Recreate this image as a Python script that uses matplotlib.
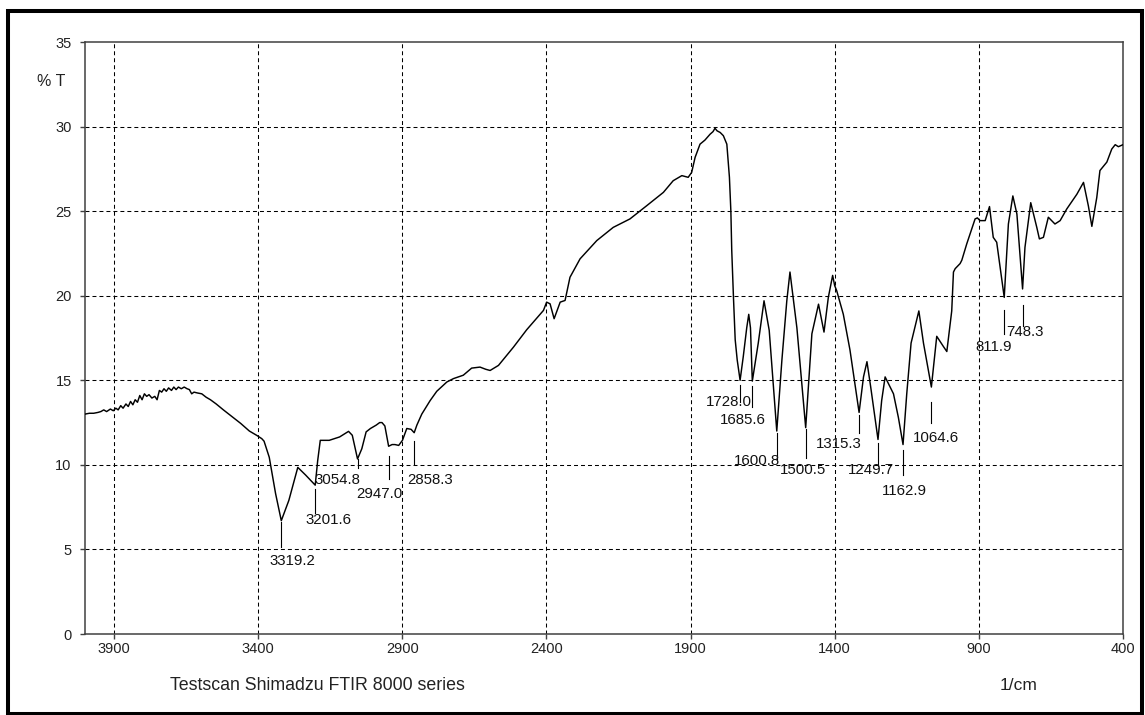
import matplotlib
matplotlib.use("Agg")
import matplotlib.pyplot as plt
import numpy as np
from matplotlib.patches import Rectangle
from matplotlib.transforms import IdentityTransform

# FTIR spectrum, wavenumber (1/cm) vs transmittance (%T)
wavenumber = [
    4000, 3985, 3970, 3955, 3945, 3935, 3925, 3912, 3902, 3893, 3885, 3876,
    3868, 3858, 3850, 3842, 3834, 3826, 3818, 3810, 3802, 3794, 3786, 3778,
    3768, 3758, 3750, 3742, 3734, 3726, 3718, 3710, 3700, 3692, 3684, 3676,
    3666, 3656, 3646, 3638, 3630, 3622, 3610, 3595, 3580, 3565, 3545, 3520,
    3490, 3460, 3430, 3405, 3392, 3387, 3379, 3361, 3339, 3319.2, 3293, 3262,
    3235, 3201.6, 3193, 3184, 3153, 3117, 3086, 3073, 3064, 3054.8, 3040, 3025,
    3010, 2990, 2978, 2970, 2960, 2947.0, 2935, 2925, 2912, 2899, 2884, 2869,
    2858.3, 2849, 2832, 2803, 2780, 2745, 2722, 2688, 2659, 2630, 2610, 2595,
    2566, 2514, 2468, 2410, 2399, 2387, 2373, 2352, 2335, 2318, 2283, 2225,
    2168, 2110, 2052, 1994, 1960, 1930, 1908, 1896, 1884, 1867, 1850, 1832,
    1822, 1815, 1808, 1797, 1786, 1774, 1765, 1760, 1757, 1751, 1745, 1738,
    1728.0, 1717, 1705, 1698, 1692, 1685.6, 1665, 1645, 1627, 1600.8, 1583, 1566,
    1555, 1531, 1500.5, 1479, 1456, 1437, 1422, 1407, 1400, 1393, 1370, 1347,
    1315.3, 1300, 1288, 1275, 1249.7, 1237, 1225, 1196, 1179, 1162.9, 1150, 1135,
    1108, 1092, 1064.6, 1046, 1023, 1011, 994, 988, 982, 965, 959, 942,
    913, 905, 896, 878, 863, 850, 838, 811.9, 797.5, 782, 768, 748.3,
    740, 720, 699, 690, 676, 659, 636, 618, 595, 560, 537, 520,
    508, 491, 480, 456, 439, 427, 416, 400,
]
transmittance = [
    13.0, 13.05, 13.05, 13.1, 13.15, 13.25, 13.15, 13.3, 13.2, 13.35, 13.25, 13.5,
    13.35, 13.6, 13.45, 13.75, 13.55, 13.85, 13.7, 14.1, 13.85, 14.2, 14.05, 14.15,
    13.95, 14.05, 13.85, 14.4, 14.3, 14.5, 14.35, 14.55, 14.4, 14.6, 14.45, 14.6,
    14.5, 14.6, 14.5, 14.45, 14.2, 14.3, 14.25, 14.2, 14.0, 13.85, 13.6, 13.25,
    12.85, 12.45, 12.0, 11.75, 11.6, 11.55, 11.4, 10.45, 8.3, 6.7, 7.9, 9.85,
    9.4, 8.8, 10.25, 11.45, 11.45, 11.65, 11.98, 11.75, 11.05, 10.35, 10.95, 11.95,
    12.15, 12.35, 12.5, 12.5, 12.3, 11.1, 11.2, 11.2, 11.15, 11.45, 12.15, 12.1,
    11.9, 12.35, 13.0, 13.8, 14.35, 14.9, 15.1, 15.3, 15.72, 15.78, 15.65, 15.58,
    15.88, 16.96, 17.99, 19.13, 19.62, 19.52, 18.64, 19.62, 19.72, 21.09, 22.18, 23.26,
    24.04, 24.54, 25.32, 26.11, 26.8, 27.1, 27.0, 27.29, 28.18, 28.96, 29.2, 29.55,
    29.7, 29.9, 29.75, 29.65, 29.46, 28.96, 27.0, 25.0, 22.7, 19.9, 17.4, 16.2,
    15.0, 16.4, 18.1, 18.9, 18.1, 14.95, 17.2, 19.7, 17.95, 12.0, 16.2, 19.7,
    21.4, 18.1, 12.2, 17.75, 19.5, 17.85, 19.9, 21.2, 20.6, 20.3, 18.9, 16.8,
    13.1, 15.2, 16.1, 14.6, 11.5, 13.8, 15.2, 14.2, 12.8, 11.2, 14.2, 17.2,
    19.1, 17.2, 14.6, 17.6, 17.0, 16.7, 19.1, 21.4, 21.6, 21.9, 22.1, 23.06,
    24.54, 24.6, 24.44, 24.44, 25.27, 23.45, 23.16, 19.9, 24.24, 25.9, 24.83, 20.4,
    22.86, 25.5, 24.04, 23.36, 23.45, 24.64, 24.24, 24.44, 25.13, 26.0, 26.7, 25.3,
    24.1, 25.8, 27.4, 27.9, 28.67, 28.93, 28.81, 28.93,
]

# picked band positions
peaks = [3319.2, 3201.6, 3054.8, 2947.0, 2858.3, 1728.0, 1685.6, 1600.8,
         1500.5, 1315.3, 1249.7, 1162.9, 1064.6, 811.9, 748.3]
# per band, in pixels: gap under the minimum, tick length,
# text shift from the tick, text baseline below the tick end
peak_layout = [
    (1, 25, -12, 18), (4, 24, -10, 11), (0, 9, -43, 16), (10, 23, -32, 19),
    (8, 23, -7, 20), (5, 17, -34, 4), (5, 21, -32, 17), (2, 26, -43, 6),
    (1, 29, -26, 16), (3, 18, -43, 15), (4, 23, -30, 8), (5, 25, -21, 20),
    (15, 21, -18, 19), (13, 24, -29, 17), (16, 21, -16, 10),
]

xticks = [3900, 3400, 2900, 2400, 1900, 1400, 900, 400]
yticks = [0, 5, 10, 15, 20, 25, 30, 35]

plt.rcParams['font.family'] = ['Liberation Sans', 'DejaVu Sans']

W, H = 1145, 715
fig = plt.figure(figsize=(W / 100, H / 100), dpi=100)
ax = fig.add_axes([85 / W, 81 / H, 1038 / W, 592 / H])
ax.set_xlim(4000, 400)
ax.set_ylim(0, 35)

dash = (0, (3.8, 2.9))
for x in xticks[:-1]:
    ax.axvline(x, color='black', lw=0.75, ls=dash, zorder=1)
for y in yticks[1:-1]:
    ax.axhline(y, color='black', lw=0.75, ls=dash, zorder=1)

ax.plot(wavenumber, transmittance, color='black', lw=1.05, zorder=3)

# peak ticks and labels
px_per_unit = 592 / 35.0
wn_asc = np.array(wavenumber[::-1])
t_asc = np.array(transmittance[::-1])
for wn, (gap, length, dx, base) in zip(peaks, peak_layout):
    t_min = np.interp(wn, wn_asc, t_asc)
    y0 = t_min - gap / px_per_unit
    y1 = t_min - (gap + length) / px_per_unit
    ax.plot([wn, wn], [y0, y1], color='black', lw=0.8, zorder=3)
    ax.annotate(f'{wn:.1f}', xy=(wn, y1), xytext=(dx, -base),
                textcoords='offset pixels', ha='left', va='baseline',
                fontsize=10.8, color='#111111')

ax.set_xticks(xticks)
ax.set_yticks(yticks)
ax.set_xticklabels([str(v) for v in xticks])
ax.set_yticklabels([str(v) for v in yticks])
ax.tick_params(axis='both', direction='out', length=3.6, width=1.0,
               color='#404040', labelsize=10.5, labelcolor='#222222')
ax.tick_params(axis='x', pad=2)
ax.tick_params(axis='y', pad=6)
for side in ['left', 'right', 'top', 'bottom']:
    ax.spines[side].set_color('#404040')
    ax.spines[side].set_linewidth(1.1)

fig.text(37 / W, 1 - 82 / H, '% T', ha='left', va='center',
         fontsize=11.5, color='#222222')
fig.text(170 / W, 1 - 686 / H, 'Testscan Shimadzu FTIR 8000 series',
         ha='left', va='center', fontsize=12.8, color='#222222')
fig.text(1000 / W, 1 - 685 / H, '1/cm', ha='left', va='center',
         fontsize=12.5, color='#222222')

# outer frame
fig.add_artist(Rectangle((8, 1), 1134, 703, transform=IdentityTransform(),
                         fill=False, edgecolor='black', lw=2.9))

fig.savefig('out.png', dpi=100)
